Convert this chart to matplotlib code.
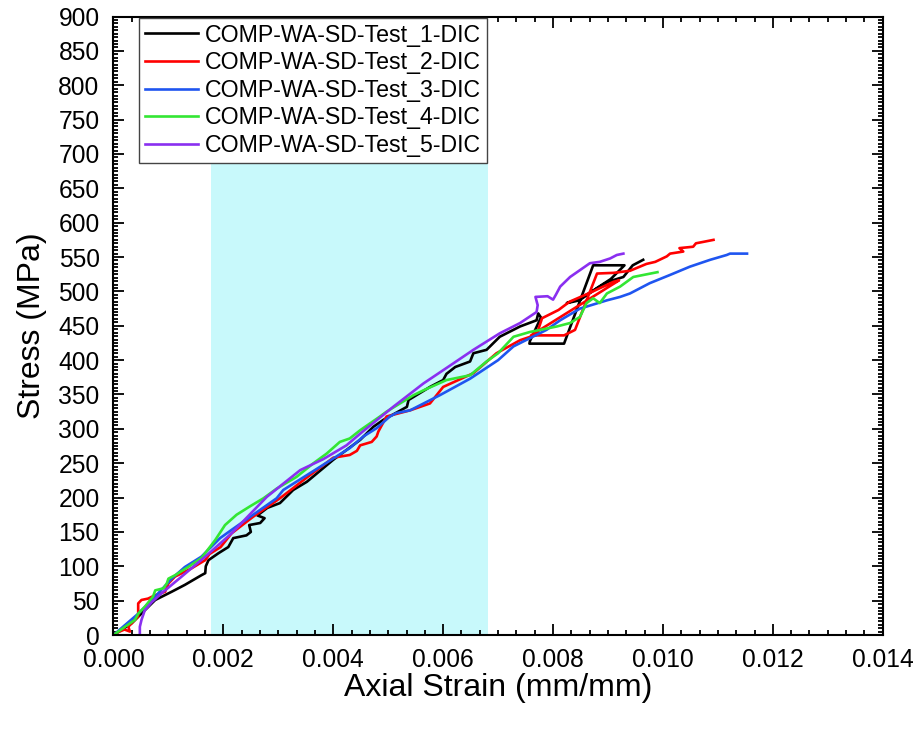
import numpy as np
import matplotlib
matplotlib.use("Agg")
import matplotlib.pyplot as plt
from matplotlib.ticker import MultipleLocator

plt.rcParams['font.family'] = ['Liberation Sans', 'DejaVu Sans']

# strain (mm/mm) / stress (MPa)
t1_x = [0, 0.00010, 0.00033, 0.00057, 0.00076, 0.00106, 0.00130, 0.00160, 0.00167, 0.00168, 0.00173,
        0.00191, 0.00209, 0.00218, 0.00242, 0.00250, 0.00247, 0.00267, 0.00275, 0.00262, 0.00280,
        0.00303, 0.00327, 0.00352, 0.00400, 0.00449, 0.00473, 0.00491, 0.00534, 0.00537, 0.00576,
        0.00600, 0.00606, 0.00622, 0.00649, 0.00655, 0.00679, 0.00703, 0.00740, 0.00770, 0.00773,
        0.00778, 0.00758, 0.00757, 0.00820, 0.00873, 0.00930, 0.00905, 0.00880, 0.00848, 0.00825,
        0.00850, 0.00900, 0.00928, 0.00945, 0.00964]
t1_y = [0, 5, 17, 36, 51, 63, 73, 87, 90, 100, 109,
        119, 128, 141, 145, 150, 160, 163, 170, 174, 185,
        192, 211, 223, 255, 284, 303, 313, 332, 342, 361,
        371, 380, 390, 398, 410, 415, 434, 449, 458, 468,
        462, 428, 424, 424, 538, 538, 518, 505, 487, 483,
        490, 514, 521, 538, 546]

t2_x = [0, 0.00005, 0.00020, 0.00030, 0.00027, 0.00045, 0.00045, 0.00051, 0.00063, 0.00076, 0.00094,
        0.00100, 0.00112, 0.00142, 0.00167, 0.00175, 0.00195, 0.00215, 0.00254, 0.00303, 0.00350,
        0.00400, 0.00430, 0.00443, 0.00449, 0.00470, 0.00479, 0.00482, 0.00497, 0.00540, 0.00576,
        0.00600, 0.00655, 0.00697, 0.00740, 0.00770, 0.00780, 0.00810, 0.00830, 0.00870, 0.00910,
        0.00920, 0.00760, 0.00820, 0.00840, 0.00880, 0.00910, 0.00940, 0.00970, 0.00986, 0.01007,
        0.01013, 0.01037, 0.01030, 0.01055, 0.01060, 0.01073, 0.01092]
t2_y = [0, 3, 8, 5, 12, 27, 46, 51, 53, 58, 63,
        75, 85, 97, 109, 118, 128, 148, 172, 199, 228,
        258, 262, 268, 276, 281, 289, 296, 318, 327, 337,
        361, 381, 410, 429, 437, 461, 473, 485, 499, 514,
        516, 436, 436, 444, 526, 527, 530, 540, 543, 551,
        555, 558, 563, 565, 570, 572, 575]

t3_x = [0, 0.00045, 0.00076, 0.00106, 0.00130, 0.00160, 0.00194, 0.00215, 0.00297, 0.00309, 0.00430,
        0.00455, 0.00479, 0.00503, 0.00515, 0.00540, 0.00594, 0.00649, 0.00700, 0.00728, 0.00788,
        0.00813, 0.00849, 0.00898, 0.00922, 0.00940, 0.00976, 0.01013, 0.01049, 0.01086, 0.01116,
        0.01122, 0.01153]
t3_y = [0, 31, 56, 82, 99, 114, 141, 153, 199, 211, 272,
        289, 301, 318, 323, 327, 349, 373, 400, 420, 444,
        458, 475, 487, 492, 497, 512, 524, 536, 546, 553,
        555, 555]

t4_x = [0, 0.00021, 0.00039, 0.00045, 0.00057, 0.00072, 0.00076, 0.00091, 0.00097, 0.00100, 0.00112,
        0.00136, 0.00160, 0.00185, 0.00203, 0.00224, 0.00248, 0.00273, 0.00297, 0.00333, 0.00364,
        0.00388, 0.00412, 0.00430, 0.00449, 0.00485, 0.00497, 0.00546, 0.00564, 0.00606, 0.00649,
        0.00679, 0.00700, 0.00728, 0.00758, 0.00807, 0.00831, 0.00849, 0.00861, 0.00873, 0.00885,
        0.00898, 0.00922, 0.00946, 0.00990]
t4_y = [0, 12, 22, 31, 41, 56, 65, 68, 75, 82, 87,
        99, 112, 138, 160, 175, 187, 199, 213, 230, 250,
        264, 281, 286, 298, 318, 325, 349, 356, 371, 378,
        398, 410, 434, 441, 449, 454, 463, 483, 490, 483,
        497, 507, 521, 528]

t5_x = [0.00048, 0.00048, 0.00051, 0.00057, 0.00070, 0.00088, 0.00124, 0.00167, 0.00215, 0.00279, 0.00340,
        0.00382, 0.00424, 0.00452, 0.00509, 0.00564, 0.00618, 0.00655, 0.00703, 0.00740, 0.00770,
        0.00772, 0.00768, 0.00790, 0.00800, 0.00805, 0.00813, 0.00831, 0.00849, 0.00867, 0.00885,
        0.00904, 0.00916, 0.00928]
t5_y = [0, 12, 22, 36, 48, 61, 85, 114, 148, 201, 240,
        256, 276, 295, 332, 366, 395, 415, 439, 454, 470,
        480, 492, 493, 488, 495, 507, 521, 531, 541, 543,
        548, 553, 555]

labels = ['COMP-WA-SD-Test_1-DIC', 'COMP-WA-SD-Test_2-DIC', 'COMP-WA-SD-Test_3-DIC',
          'COMP-WA-SD-Test_4-DIC', 'COMP-WA-SD-Test_5-DIC']
colors = ['#000000', '#ff0000', '#1f55f0', '#33e633', '#8a2ff0']
band = (0.00177, 0.00681)

fig = plt.figure(figsize=(9.18, 7.31), dpi=100)
ax = fig.add_axes([0.1236, 0.1313, 0.838, 0.8461])

ax.axvspan(band[0], band[1], color='#c8f9fb', lw=0, zorder=0)
for xs, ys, c, lab in zip([t1_x, t2_x, t3_x, t4_x, t5_x], [t1_y, t2_y, t3_y, t4_y, t5_y], colors, labels):
    ax.plot(xs, ys, color=c, lw=1.9, label=lab, solid_joinstyle='round')

ax.set_xlim(0, 0.014)
ax.set_ylim(0, 900)
ax.xaxis.set_major_locator(MultipleLocator(0.002))
ax.xaxis.set_minor_locator(MultipleLocator(0.002 / 6))
ax.yaxis.set_major_locator(MultipleLocator(50))
ax.yaxis.set_minor_locator(MultipleLocator(5))
ax.xaxis.set_major_formatter(matplotlib.ticker.FormatStrFormatter('%.3f'))
ax.tick_params(which='both', direction='in', top=True, right=True, labelsize=17.7, width=1.3)
ax.tick_params(which='major', length=8)
ax.tick_params(which='minor', length=3.5)
ax.tick_params(axis='x', pad=9)
ax.tick_params(axis='y', pad=10)
for s in ax.spines.values():
    s.set_linewidth(1.5)

ax.set_xlabel('Axial Strain (mm/mm)', fontsize=23, labelpad=1)
ax.set_ylabel('Stress (MPa)', fontsize=23, labelpad=8)

leg = ax.legend(loc='upper left', bbox_to_anchor=(0.033, 0.998), borderaxespad=0, fontsize=16.7,
                frameon=True, fancybox=False, edgecolor='#444444', handlelength=2.3,
                handletextpad=0.3, labelspacing=0.2, borderpad=0.25)
leg.get_frame().set_linewidth(1.0)
leg.get_frame().set_facecolor('white')
leg.get_frame().set_alpha(1)

fig.savefig('out.png', dpi=100)
